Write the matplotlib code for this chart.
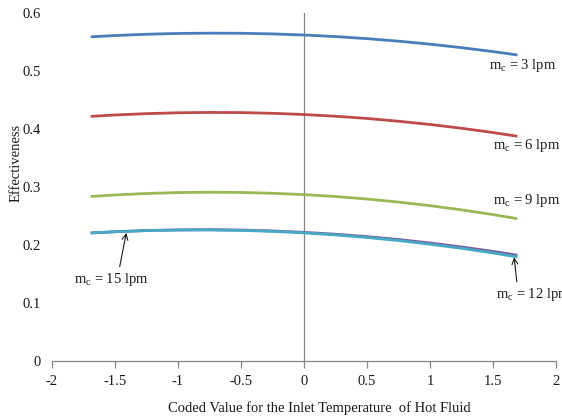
import matplotlib
matplotlib.use("Agg")
import matplotlib.pyplot as plt

plt.rcParams["font.family"] = "Liberation Serif"
plt.rcParams["mathtext.fontset"] = "custom"
plt.rcParams["mathtext.rm"] = "Liberation Serif"
plt.rcParams["mathtext.it"] = "Liberation Serif:italic"

# coded value of inlet hot fluid temperature
x_coded = [-1.682, -1.5, -1.25, -1.0, -0.75, -0.5, -0.25, 0.0,
           0.25, 0.5, 0.75, 1.0, 1.25, 1.5, 1.682]

eff_3lpm = [0.5590, 0.5611, 0.5633, 0.5647, 0.5652, 0.5650, 0.5639, 0.5620,
            0.5593, 0.5557, 0.5514, 0.5462, 0.5402, 0.5334, 0.5279]
eff_6lpm = [0.4219, 0.4242, 0.4265, 0.4280, 0.4286, 0.4283, 0.4271, 0.4250,
            0.4220, 0.4182, 0.4134, 0.4078, 0.4013, 0.3939, 0.3879]
eff_9lpm = [0.2839, 0.2864, 0.2889, 0.2905, 0.2911, 0.2907, 0.2893, 0.2870,
            0.2837, 0.2794, 0.2741, 0.2679, 0.2607, 0.2525, 0.2459]
eff_12lpm = [0.2210, 0.2230, 0.2251, 0.2262, 0.2265, 0.2259, 0.2244, 0.2220,
             0.2187, 0.2146, 0.2096, 0.2036, 0.1968, 0.1891, 0.1830]
eff_15lpm = [0.2210, 0.2230, 0.2249, 0.2259, 0.2261, 0.2253, 0.2236, 0.2210,
             0.2175, 0.2131, 0.2078, 0.2015, 0.1944, 0.1864, 0.1799]

x_ticks = [-2, -1.5, -1, -0.5, 0, 0.5, 1, 1.5, 2]
x_ticklabels = ["-2", "-1.5", "-1", "-0.5", "0", "0.5", "1", "1.5", "2"]
y_ticks = [0, 0.1, 0.2, 0.3, 0.4, 0.5, 0.6]
y_ticklabels = ["0", "0.1", "0.2", "0.3", "0.4", "0.5", "0.6"]

AXIS = "#868686"
INK = "#1a1a1a"

fig = plt.figure(figsize=(5.62, 4.18), dpi=100, facecolor="white")
ax = fig.add_axes([0.0925, 0.136, 0.897, 0.833])

ax.plot(x_coded, eff_3lpm, color="#4A7EBB", lw=2.0)
ax.plot(x_coded, eff_6lpm, color="#BE4B48", lw=2.0)
ax.plot(x_coded, eff_9lpm, color="#98B954", lw=2.0)
ax.plot(x_coded, eff_12lpm, color="#7D60A0", lw=2.0)
ax.plot(x_coded, eff_15lpm, color="#46AAC5", lw=2.0)

ax.set_xlim(-2, 2)
ax.set_ylim(0, 0.6)
ax.axvline(0, color=AXIS, lw=0.9, zorder=0)

for side in ("top", "right", "left"):
    ax.spines[side].set_visible(False)
ax.spines["bottom"].set_color(AXIS)
ax.spines["bottom"].set_linewidth(0.9)

ax.set_xticks(x_ticks)
ax.set_xticklabels(x_ticklabels)
ax.set_yticks(y_ticks)
ax.set_yticklabels(y_ticklabels)
ax.tick_params(axis="x", direction="out", length=5, width=0.9, color=AXIS,
               labelsize=10.5, labelcolor=INK, pad=5)
ax.tick_params(axis="y", length=0, labelsize=10.5, labelcolor=INK, pad=8)

ax.set_xlabel("Coded Value for the Inlet Temperature  of Hot Fluid",
              fontsize=10.5, color=INK)
ax.xaxis.set_label_coords(0.53, -0.115)
ax.set_ylabel("Effectiveness", fontsize=10.5, color=INK)
ax.yaxis.set_label_coords(-0.059, 0.569)

lbl = dict(fontsize=10.5, color=INK, va="center", ha="left")
ax.text(1.47, 0.510, r"m$_\mathrm{c}$ = 3 lpm", **lbl)
ax.text(1.50, 0.372, r"m$_\mathrm{c}$ = 6 lpm", **lbl)
ax.text(1.50, 0.276, r"m$_\mathrm{c}$ = 9 lpm", **lbl)

ax.annotate(r"m$_\mathrm{c}$ = 12 lpm", xy=(1.667, 0.179), xytext=(1.52, 0.115),
            fontsize=10.5, color=INK, va="center", ha="left",
            arrowprops=dict(arrowstyle="->", color=INK, lw=0.8,
                            relpos=(0.29, 1.0), shrinkA=1, shrinkB=0),
            annotation_clip=False)
ax.annotate(r"m$_\mathrm{c}$ = 15 lpm", xy=(-1.41, 0.221), xytext=(-1.825, 0.141),
            fontsize=10.5, color=INK, va="center", ha="left",
            arrowprops=dict(arrowstyle="->", color=INK, lw=0.8,
                            relpos=(0.6, 1.0), shrinkA=1, shrinkB=0))

fig.savefig("out.png", dpi=100, facecolor="white")
